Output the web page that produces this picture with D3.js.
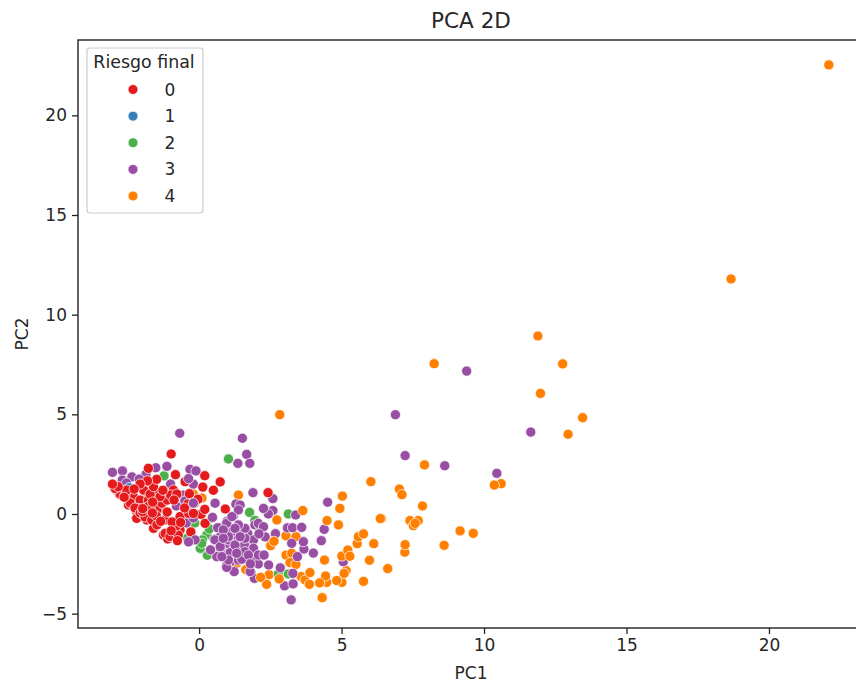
<!DOCTYPE html>
<html><head><meta charset="utf-8">
<script src="https://cdn.jsdelivr.net/npm/d3@7"></script>
<style>html,body{margin:0;padding:0;background:#fff;overflow:hidden}svg{display:block}text{font-family:"DejaVu Sans",sans-serif;fill:#262626}</style>
</head><body><div id="c"></div>
<script>
const riskLevels = [0,1,2,3,4];
const xTicks = [0,5,10,15,20];
const yTicks = [-5,0,5,10,15,20];
const xDomain = [-4.25,23.37];
const yDomain = [-5.72,23.78];

const orangeBase = [[1.38,0.95],[2.37,0.12],[1.64,-2.79],[1.32,-2.47],[-0.2,1.0],[0.1,0.8],[-0.15,0.55],[-1.3,0.4],[-0.6,-0.3],[2.46,-3.04],[2.37,-3.53],[3.58,-3.14],[3.72,-3.31],[3.87,-3.53],[3.05,-1.1],[3.4,-1.14],[3.05,-2.06],[3.25,-1.97],[3.19,-2.44],[3.4,-2.53],[5.16,-2.84],[5.01,-3.43],[4.48,-3.43]];
const green = [[1.03,2.76],[-1.23,1.91],[1.77,0.08],[1.96,-0.32],[3.13,0],[2.78,-3.01],[3.13,-3.01],[0.29,-2.07],[0.27,-1.05],[0.08,-1.5],[0.05,-1.75],[0.12,-1.3],[0.36,-0.75],[1.42,-0.67],[-0.3,-1.35],[-1.7,-0.1],[-0.15,-0.45],[0.45,-0.2],[1.2,-0.75],[0.04,-1.72],[0.09,-1.47],[-2.2,-0.2],[-0.4,-1.2]];
const purple = [[-0.68,4.05],[1.52,3.8],[1.67,2.99],[1.36,2.54],[1.78,2.54],[-3.04,2.09],[-2.69,2.16],[-1.52,2.32],[-1.13,2.39],[-2.36,1.86],[-1.86,2.0],[-2.1,1.75],[-1.55,1.1],[-0.32,2.24],[-0.11,2.16],[-0.2,1.5],[-0.55,0.95],[-0.5,0.65],[-1.85,0.95],[-1.43,0.78],[-2.7,1.7],[-2.55,1.55],[-2.0,1.45],[-1.7,1.5],[-1.0,1.5],[-0.8,0.4],[-0.45,-0.45],[-0.2,-0.2],[1.89,1.07],[2.59,0.77],[1.29,0.5],[1.44,0.45],[1.2,-0.1],[1.38,0.2],[2.28,0.25],[2.59,0.17],[2.43,0],[3.39,-0.05],[0.8,-0.67],[0.53,-1.27],[0.95,-1.5],[1.38,-0.9],[1.71,-0.97],[1.58,-1.5],[1.38,-1.89],[1.09,-2.39],[1.49,-2.27],[1.91,-2.26],[2.08,-2.51],[1.2,-1.3],[0.91,-1.97],[0.74,-1.72],[1.67,-1.89],[1.85,-1.64],[1.15,-0.89],[0.97,-0.38],[1.61,-0.72],[1.96,-0.55],[2.14,-0.6],[2.32,-1.15],[2.68,-0.99],[1.91,-1.3],[1.2,-1.81],[1.56,-1.22],[1.67,-2.14],[1.38,-0.55],[1.03,-1.3],[0.74,-1.14],[0.62,-2.14],[0.96,-2.59],[1.23,-2.89],[1.82,-2.93],[1.94,-3.23],[2.26,-2.07],[2.44,-2.56],[2.85,-2.7],[3.0,-3.61],[3.3,-3.51],[3.23,-4.31],[3.29,-2.98],[3.1,-0.7],[3.28,-0.69],[3.6,-0.67],[3.25,-1.47],[3.68,-1.76],[4.01,-1.96],[3.45,-2.14],[3.66,-1.39],[4.39,-0.77],[4.29,-1.34],[4.51,0.59],[5.06,-2.39],[6.89,4.98],[9.39,7.17],[11.64,4.11],[7.23,2.93],[8.62,2.42],[10.45,2.04],
  [0.65,-0.69],[0.97,-0.47],[1.03,-1.14],[0.56,-1.3],[1.59,-1.56],[1.91,-1.72],[1.38,-2.31],[1.09,-1.94],[1.5,-2.27],[0.97,-2.68],[1.26,-1.56],[1.61,-1.22],[0.74,-1.64],[1.26,-0.72],[0.85,-0.8],[1.15,-0.13],[2.08,-2.06],[1.79,-2.89],[2.28,-2.06],[2.08,-0.47],[2.26,-0.64],[2.26,0.28],[1.03,-2.31],[1.61,-1.89],[1.32,-1.97],[0.8,-2.14],[0.85,-1.22],[1.44,-1.14],[1.73,-2.06],[0.4,-1.8],[2.1,-1.0],[1.8,-2.5]];
const blue = [[-2.46,1.32]];
const red = [[-2.9,1.2],[-2.8,1.0],[-2.55,0.9],[-2.48,0.45],[-2.3,0.37],[-2.19,0.12],[-2.19,-0.22],[-2.0,0.0],[-1.84,-0.3],[-1.6,-0.72],[-1.25,-1.05],[-0.96,-1.05],[-1.1,-1.25],[-0.67,-0.8],[-2.3,0.87],[-2.07,0.7],[-1.84,1.12],[-1.49,1.04],[-2.13,0.28],[-1.37,0.28],[-0.9,1.2],[-1.95,1.2],[-1.78,0.7],[-0.67,-0.13],[-0.37,0.03],[-2.77,1.0],[-2.6,0.95],[-2.42,0.55],[-2.25,0.3],[-2.07,0.05],[-1.9,-0.15],[-1.66,-0.3],[-1.48,-0.55],[-1.19,-0.97],[-1.02,-1.13],[-0.73,-1.05],[-1.98,0.12],[-1.78,0.37],[-1.48,0.2],[-1.31,0.54],[-1.12,0.7],[-1.0,0.95],[-0.78,1.0],[-1.37,0.87],[-1.72,1.0],[-1.6,1.37],[-2.54,1.2],[-2.95,1.28],[-1.7,0.2],[-1.2,-0.3],[-0.4,0.5],[-1.5,-0.1],[-0.8,-0.6],
  [-0.98,3.01],[-1.78,2.29],[-0.83,1.97],[0.2,1.92],[0.74,1.61],[0.5,1.19],[0.13,1.35],[-0.49,1.62],[-0.34,1.02],[-0.04,0.74],[-1.27,1.19],[-1.49,1.74],[-1.81,1.66],[-2.07,1.5],[-2.28,1.25],[-2.84,1.37],[-3.04,1.5],[-2.63,0.84],[-0.88,0.7],[-1.63,0.6],[-1.98,0.27],[-1.64,0.05],[-1.12,0.1],[-0.51,0.3],[0.07,-0.02],[0.21,-0.47],[-1.35,-0.37],[-0.95,-0.4],[-0.65,-0.42],[-0.98,-0.84],[-0.76,-1.34],[-0.29,-0.9],[0.92,0.25],[-0.2,0.03],[0.2,0.23],[2.42,1.07]];
const purpleTop = [[-0.37,1.77],[0.56,0.54],[0.47,-0.17],[-0.14,-1.3],[-0.37,-1.4],[-0.2,0.55]];
const orangeTop = [[2.51,-1.59],[2.63,-1.37],[2.73,-0.3],[3.64,0.17],[2.83,4.98],[2.16,-3.18],[2.81,-3.26],[3.89,-2.94],[4.4,-2.31],[4.44,-3.11],[4.23,-3.46],[4.32,-4.2],[4.83,-3.34],[5.09,-2.98],[5.77,-3.38],[5.98,-2.32],[6.62,-2.74],[5.01,-2.11],[5.22,-1.81],[5.29,-2.12],[5.55,-1.49],[6.13,-1.49],[5.59,-1.14],[5.77,-1],[6.4,-0.23],[6.36,-0.23],[4.49,-0.33],[4.89,-0.55],[4.94,0.28],[5.03,0.9],[6.03,1.62],[7.03,1.25],[7.12,0.97],[7.84,0.4],[7.91,2.46],[8.25,7.54],[7.4,-0.33],[7.69,-0.33],[7.52,-0.59],[7.58,-0.47],[9.16,-0.85],[9.62,-0.97],[7.22,-1.92],[7.23,-1.54],[8.6,-1.57],[10.6,1.52],[10.36,1.45],[11.98,6.05],[12.76,7.53],[11.89,8.93],[12.95,4.0],[13.46,4.83],[18.67,11.79],[22.1,22.53]];

const palette = ["#e41a1c","#377eb8","#4daf4a","#984ea3","#ff7f00"];
const layers = [
  {risk:4,pts:orangeBase},{risk:2,pts:green},{risk:3,pts:purple},{risk:1,pts:blue},
  {risk:0,pts:red},{risk:3,pts:purpleTop},{risk:4,pts:orangeTop}
];

const W=856,H=684,m={l:78,r:865,t:40,b:628};
const color=d3.scaleOrdinal(riskLevels,palette);
const x=d3.scaleLinear(xDomain,[m.l,m.r]);
const y=d3.scaleLinear(yDomain,[m.b,m.t]);
const svg=d3.select("#c").append("svg").attr("width",W).attr("height",H);

const plot=svg.append("g");
layers.forEach(l=>{
  plot.append("g").selectAll("circle").data(l.pts).join("circle")
    .attr("cx",d=>x(d[0])).attr("cy",d=>y(d[1])).attr("r",5.1)
    .attr("fill",color(l.risk)).attr("stroke","#fff").attr("stroke-width",0.9).attr("stroke-opacity",0.8);
});

const gx=svg.append("g").attr("transform",`translate(0,${m.b})`)
  .call(d3.axisBottom(x).tickValues(xTicks).tickSize(6).tickPadding(5).tickFormat(d3.format("d")));
const gy=svg.append("g").attr("transform",`translate(${m.l},0)`)
  .call(d3.axisLeft(y).tickValues(yTicks).tickSize(6).tickPadding(5).tickFormat(d=>d<0?"\u2212"+(-d):d));
[gx,gy].forEach(g=>{
  g.select(".domain").remove();
  g.selectAll("line").attr("stroke","#222").attr("stroke-width",1.3);
  g.selectAll("text").attr("font-size",17).attr("font-family","DejaVu Sans").attr("fill","#262626");
});
svg.append("rect").attr("x",m.l).attr("y",m.t).attr("width",m.r-m.l).attr("height",m.b-m.t)
  .attr("fill","none").attr("stroke","#222").attr("stroke-width",1.4);

svg.append("text").attr("x",471).attr("y",28).attr("text-anchor","middle").attr("font-size",21.5).text("PCA 2D");
svg.append("text").attr("x",471).attr("y",679).attr("text-anchor","middle").attr("font-size",17).text("PC1");
svg.append("text").attr("transform","translate(28,334) rotate(-90)").attr("text-anchor","middle").attr("font-size",17).text("PC2");

const lg=svg.append("g");
lg.append("rect").attr("x",87).attr("y",48).attr("width",116).attr("height",165).attr("rx",3)
  .attr("fill","#fff").attr("fill-opacity",.8).attr("stroke","#ccc").attr("stroke-width",1.2);
lg.append("text").attr("x",144).attr("y",68).attr("text-anchor","middle").attr("font-size",17.4).text("Riesgo final");
const rowY=d3.scalePoint(riskLevels,[89.5,196]);
riskLevels.forEach(r=>{
  lg.append("circle").attr("cx",133).attr("cy",rowY(r)).attr("r",5).attr("fill",color(r)).attr("stroke","#fff").attr("stroke-width",.8);
  lg.append("text").attr("x",170).attr("y",rowY(r)+6).attr("text-anchor","middle").attr("font-size",17).text(r);
});
</script></body></html>
